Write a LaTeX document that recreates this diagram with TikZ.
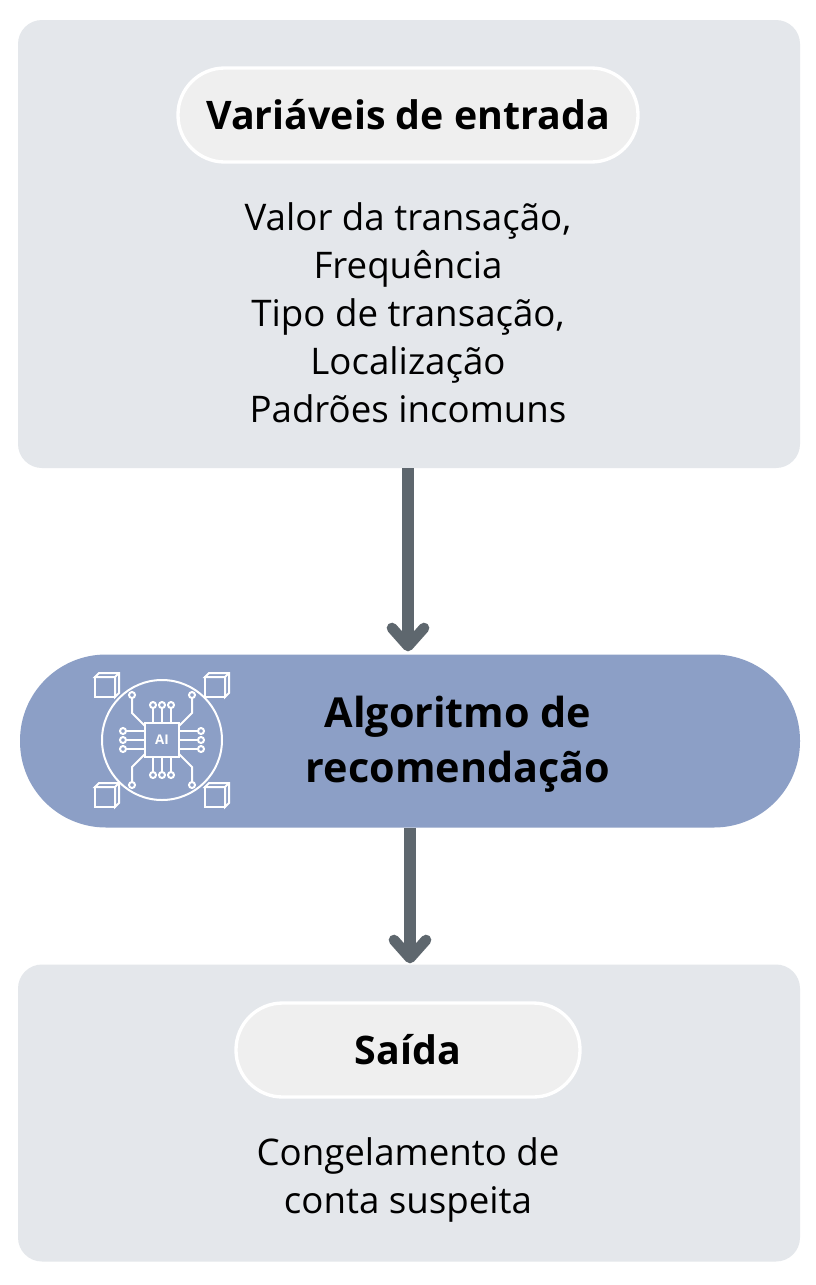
\documentclass[tikz,border=0pt]{standalone}
\usepackage{fontspec}
\setmainfont{Open Sans}
\definecolor{boxbg}{HTML}{E4E7EB}
\definecolor{pillbg}{HTML}{EFEFEF}
\definecolor{algobg}{HTML}{8C9FC6}
\definecolor{arr}{HTML}{5E676E}
\tikzset{
 panel/.style={fill=boxbg,draw=none,rounded corners=18pt},
 pill/.style={fill=pillbg,draw=white,line width=2.5pt,rounded corners=35pt},
 body/.style={font=\fontsize{27.5}{36}\selectfont,align=center},
 ttl/.style={font=\fontsize{29.5}{30}\selectfont\bfseries,align=center},
 flow/.style={arr,line width=9pt},
 head/.style={arr,line width=8pt,line cap=round,line join=round},
 ic/.style={white,line width=1.5pt}
}
\begin{document}
\begin{tikzpicture}[x=0.75pt,y=-0.75pt]
\useasboundingbox (0,0) rectangle (816,1285);
\fill[white] (0,0) rectangle (816,1285);
\node[panel,minimum width=782*0.75pt,minimum height=448*0.75pt] (top) at (409,244) {};
\node[pill,minimum width=460*0.75pt,minimum height=94*0.75pt] (tp) at (408,115) {};
\node[ttl] at (tp) {Variáveis de entrada};
\node[body] (tb) at (408,313) {Valor da transação,\\Frequência\\Tipo de transação,\\Localização\\Padrões incomuns};
\node[fill=algobg,rounded corners=86*0.75pt,minimum width=780*0.75pt,minimum height=173*0.75pt] (alg) at (410,741) {};
\node[ttl,font=\fontsize{31}{41}\selectfont\bfseries] at (458,744) {Algoritmo de\\recomendação};
\node[panel,minimum width=782*0.75pt,minimum height=297*0.75pt] (bot) at (409,1113) {};
\node[pill,minimum width=344*0.75pt,minimum height=94*0.75pt] (bp) at (408,1050) {};
\node[ttl] at (bp) {Saída};
\node[body] at (408,1180) {Congelamento de\\conta suspeita};
\coordinate (a1) at (408,646);
\coordinate (a2) at (410,958);
\draw[flow] (top.south -| a1) -- (a1);
\draw[head] (392,628) -- (a1) -- (424,628);
\draw[flow] (alg.south -| a2) -- (a2);
\draw[head] (394,940) -- (a2) -- (426,940);
% icon
\begin{scope}[shift={(162,740)}]
\draw[ic] (0,0) circle (60);
\draw[ic,fill=algobg] (-17,-17) rectangle (17,17);
\node[white,font=\bfseries\fontsize{10}{10}\selectfont] at (0,0) {AI};
\foreach \s in {1,-1}{\foreach \t in {1,-1}{
 \begin{scope}[shift={(\s*55,\t*55)}]
 \draw[ic,fill=algobg] (-12,-8) rectangle (8,12);
 \draw[ic,fill=algobg] (-12,-8) -- (-8,-12) -- (12,-12) -- (12,8) -- (8,12) -- (8,-8) -- cycle;
 \draw[ic] (8,-8) -- (12,-12);
 \end{scope}
}}
\foreach \a in {-9,0,9}{
 \draw[ic] (\a,-17) -- (\a,-32); \draw[ic] (\a,-35) circle (3);
 \draw[ic] (\a,17) -- (\a,32); \draw[ic] (\a,35) circle (3);
 \draw[ic] (-17,\a) -- (-36,\a); \draw[ic] (-39,\a) circle (3);
 \draw[ic] (17,\a) -- (36,\a); \draw[ic] (39,\a) circle (3);}
\foreach \s in {1,-1}{\foreach \t in {1,-1}{
 \draw[ic] (\s*17,\t*14) -- (\s*30,\t*27) -- (\s*30,\t*42); \draw[ic] (\s*30,\t*45) circle (3);}}
\end{scope}
\end{tikzpicture}
\end{document}
